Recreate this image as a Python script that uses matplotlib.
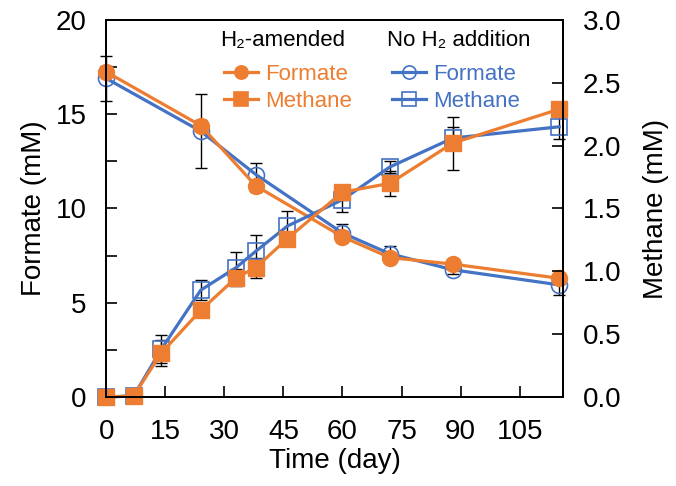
import matplotlib.pyplot as plt
from matplotlib.lines import Line2D

plt.rcParams['font.family'] = ['Liberation Sans', 'DejaVu Sans']

ORANGE = '#ED7D31'
BLUE = '#4472C4'

# formate (left axis, mM)
t_formate = [0, 24, 38, 60, 72, 88, 115]
formate_h2 = [17.25, 14.4, 11.2, 8.5, 7.4, 7.05, 6.3]
formate_h2_err = [0.3, 0.3, 0.3, 0.3, 0.2, 0.2, 0.3]
formate_ctrl = [16.9, 14.1, 11.8, 8.7, 7.6, 6.75, 5.95]
formate_ctrl_err = [1.2, 1.95, 0.6, 0.5, 0.4, 0.2, 0.55]

# methane (right axis, mM)
t_methane = [0, 7, 14, 24, 33, 38, 46, 60, 72, 88, 115]
methane_h2 = [0.0, 0.01, 0.35, 0.69, 0.95, 1.03, 1.26, 1.63, 1.70, 2.02, 2.29]
methane_h2_err = [0, 0, 0.1, 0.05, 0.07, 0.08, 0.05, 0.06, 0.1, 0.21, 0.05]
methane_ctrl = [0.0, 0.01, 0.38, 0.85, 1.03, 1.16, 1.36, 1.57, 1.83, 2.06, 2.15]
methane_ctrl_err = [0, 0, 0.11, 0.08, 0.12, 0.13, 0.12, 0.1, 0.05, 0.09, 0.1]

x_ticks = [0, 15, 30, 45, 60, 75, 90, 105]

fig = plt.figure(figsize=(6.76, 4.86), dpi=100)
ax = fig.add_axes([0.157, 0.183, 0.676, 0.776])
ax2 = ax.twinx()

lw = 2.3
eb = dict(fmt='none', ecolor='black', elinewidth=1.0, capsize=4, capthick=1.0, clip_on=False)

ax.errorbar(t_formate, formate_ctrl, yerr=formate_ctrl_err, **eb)
ax.errorbar(t_formate, formate_h2, yerr=formate_h2_err, **eb)
ax.plot(t_formate, formate_ctrl, color=BLUE, lw=lw, marker='o', ms=11.5,
        mfc='none', mec=BLUE, mew=1.2, clip_on=False)
ax.plot(t_formate, formate_h2, color=ORANGE, lw=lw, marker='o', ms=11.5,
        mfc=ORANGE, mec=ORANGE, clip_on=False)

ax2.errorbar(t_methane, methane_ctrl, yerr=methane_ctrl_err, **eb)
ax2.errorbar(t_methane, methane_h2, yerr=methane_h2_err, **eb)
ax2.plot(t_methane, methane_ctrl, color=BLUE, lw=lw, marker='s', ms=11.5,
         mfc='none', mec=BLUE, mew=1.2, clip_on=False)
ax2.plot(t_methane, methane_h2, color=ORANGE, lw=lw, marker='s', ms=11.5,
         mfc=ORANGE, mec=ORANGE, clip_on=False)

ax.set_xlim(0, 116)
ax.set_ylim(0, 20)
ax2.set_ylim(0, 3.0)
ax.set_xticks(x_ticks)
ax.set_yticks([0, 5, 10, 15, 20])
ax.set_yticks([2.5, 7.5, 12.5, 17.5], minor=True)
ax2.set_yticks([0, 0.5, 1.0, 1.5, 2.0, 2.5, 3.0])
ax2.set_yticklabels(['0.0', '0.5', '1.0', '1.5', '2.0', '2.5', '3.0'])

for a in (ax, ax2):
    for s in a.spines.values():
        s.set_linewidth(1.4)
    a.tick_params(direction='in', length=8, width=1.2, labelsize=20, pad=14)
    a.tick_params(which='minor', direction='in', length=8, width=1.2)
ax.tick_params(axis='x', pad=16)

ax.set_xlabel('Time (day)', fontsize=20, labelpad=2)
ax.set_ylabel('Formate (mM)', fontsize=20, labelpad=6)
ax2.set_ylabel('Methane (mM)', fontsize=20, labelpad=16)

def handles(color, filled):
    fc = color if filled else 'none'
    return [Line2D([], [], color=color, lw=lw, marker='o', ms=9.5, mfc=fc, mec=color, mew=1.2),
            Line2D([], [], color=color, lw=lw, marker='s', ms=9.5, mfc=fc, mec=color, mew=1.2)]

leg_kw = dict(frameon=False, fontsize=16, handlelength=1.55, handletextpad=0.3,
              labelspacing=0.25, borderaxespad=0, borderpad=0,
              loc='upper left', bbox_transform=fig.transFigure)
leg1 = ax2.legend(handles(ORANGE, True), ['Formate', 'Methane'],
                  bbox_to_anchor=(224 / 676, 1 - 64 / 486), labelcolor=ORANGE, **leg_kw)
ax2.add_artist(leg1)
ax2.legend(handles(BLUE, False), ['Formate', 'Methane'],
           bbox_to_anchor=(392 / 676, 1 - 64 / 486), labelcolor=BLUE, **leg_kw)

fig.text(220 / 676, 1 - 40 / 486, 'H₂-amended', fontsize=16, va='center', ha='left')
fig.text(387 / 676, 1 - 40 / 486, 'No H₂ addition', fontsize=16, va='center', ha='left')

fig.savefig('out.png', dpi=100)
